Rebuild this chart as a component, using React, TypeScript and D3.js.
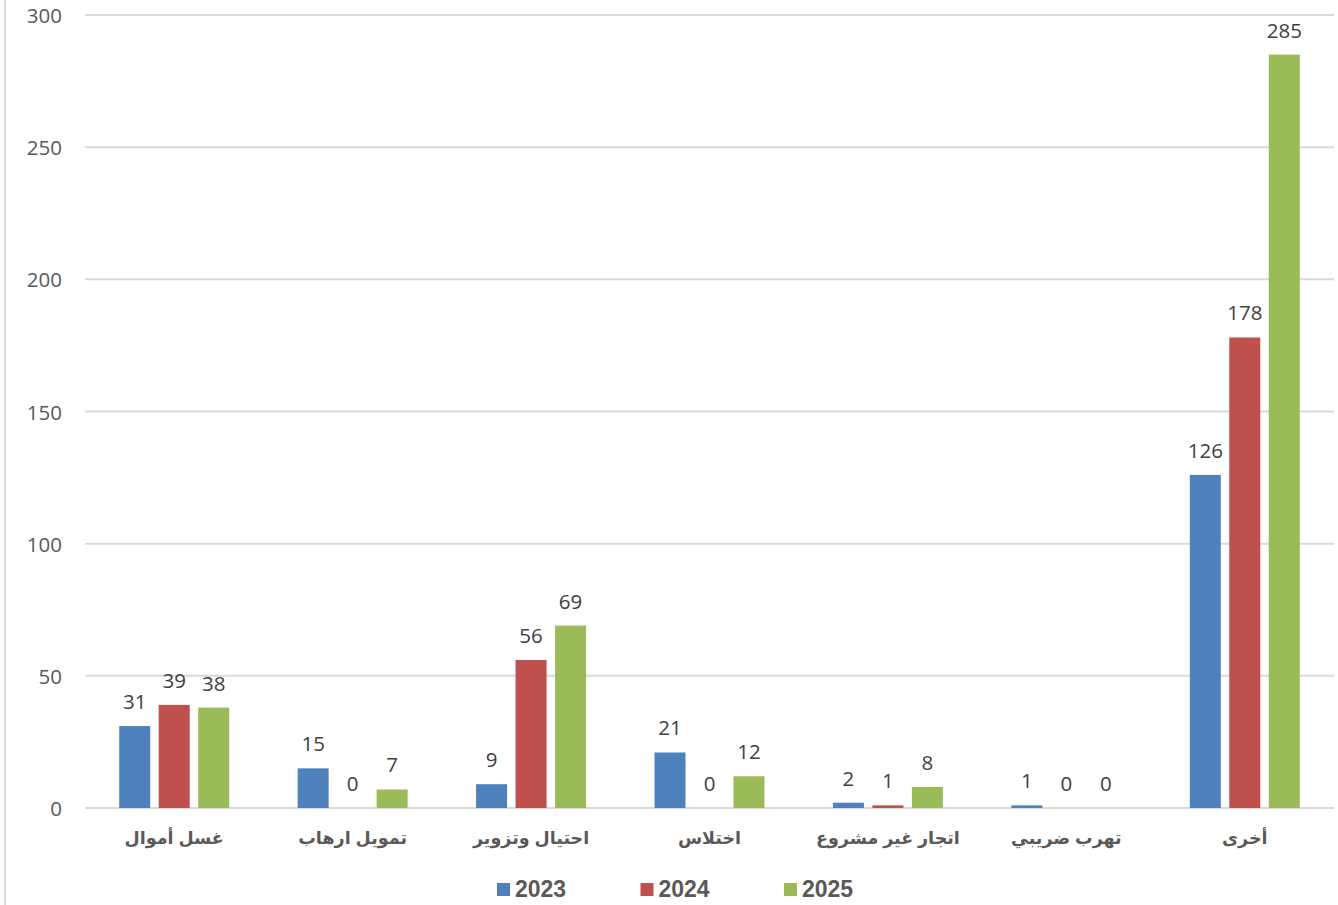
import * as d3 from "d3";

const categories = ["غسل أموال", "تمويل ارهاب", "احتيال وتزوير", "اختلاس", "اتجار غير مشروع", "تهرب ضريبي", "أخرى"];
const years = ["2023", "2024", "2025"];
const values2023 = [31, 15, 9, 21, 2, 1, 126];
const values2024 = [39, 0, 56, 0, 1, 0, 178];
const values2025 = [38, 7, 69, 12, 8, 0, 285];
const yTicks = [0, 50, 100, 150, 200, 250, 300];
const colors = ["#4f81bd", "#c0504d", "#9bbb59"];

const W = 1338;
const H = 905;
const M = { top: 15, right: 4, bottom: 97, left: 85 };

export default function App() {
  const series = [values2023, values2024, values2025];
  const x = d3.scaleBand().domain(categories).range([M.left, W - M.right]);
  // grouped bars take ~110px of each 178px category
  const groupW = 110;
  const x1 = d3
    .scaleBand()
    .domain(years)
    .range([(x.bandwidth() - groupW) / 2, (x.bandwidth() + groupW) / 2])
    .paddingInner(0.215);
  const y = d3.scaleLinear().domain([0, 300]).range([H - M.bottom, M.top]);

  const numFont = "'Open Sans', 'Noto Sans', sans-serif";
  const arFont = "Arial, 'DejaVu Sans', sans-serif";

  return (
    <svg width={W} height={H} style={{ position: "absolute", left: 0, top: 0, background: "#fff" }}>
      <line x1={5} x2={5} y1={0} y2={H} stroke="#d9d9d9" strokeWidth={2} />
      {yTicks.map((t) => (
        <g key={t}>
          <line x1={M.left} x2={W - M.right} y1={y(t)} y2={y(t)} stroke="#d9d9d9" strokeWidth={2} />
          <text x={62} y={y(t)} textAnchor="end" dominantBaseline="central" fontSize={20.5} fill="#595959" fontFamily={numFont}>
            {t}
          </text>
        </g>
      ))}
      {categories.map((c, i) => (
        <g key={c} transform={`translate(${x(c)},0)`}>
          {series.map((vals, s) => {
            const v = vals[i];
            const bx = x1(years[s]) ?? 0;
            return (
              <g key={s}>
                {v > 0 && (
                  <rect x={bx} y={y(v)} width={x1.bandwidth()} height={y(0) - y(v)} fill={colors[s]} />
                )}
                <text
                  x={bx + x1.bandwidth() / 2}
                  y={y(v) - 17}
                  textAnchor="middle"
                  fontSize={20.5}
                  fill="#404040"
                  fontFamily={numFont}
                >
                  {v}
                </text>
              </g>
            );
          })}
          <text
            x={x.bandwidth() / 2}
            y={844}
            textAnchor="middle"
            fontSize={17.5}
            fontWeight="bold"
            fill="#595959"
            fontFamily={arFont}
            direction="rtl"
          >
            {c}
          </text>
        </g>
      ))}
      {years.map((yr, s) => {
        const lx = 497 + s * 143.5;
        return (
          <g key={yr}>
            <rect x={lx} y={883} width={13} height={13} fill={colors[s]} />
            <text x={lx + 18} y={897} fontSize={23} fontWeight="bold" fill="#595959" fontFamily={arFont}>
              {yr}
            </text>
          </g>
        );
      })}
    </svg>
  );
}
